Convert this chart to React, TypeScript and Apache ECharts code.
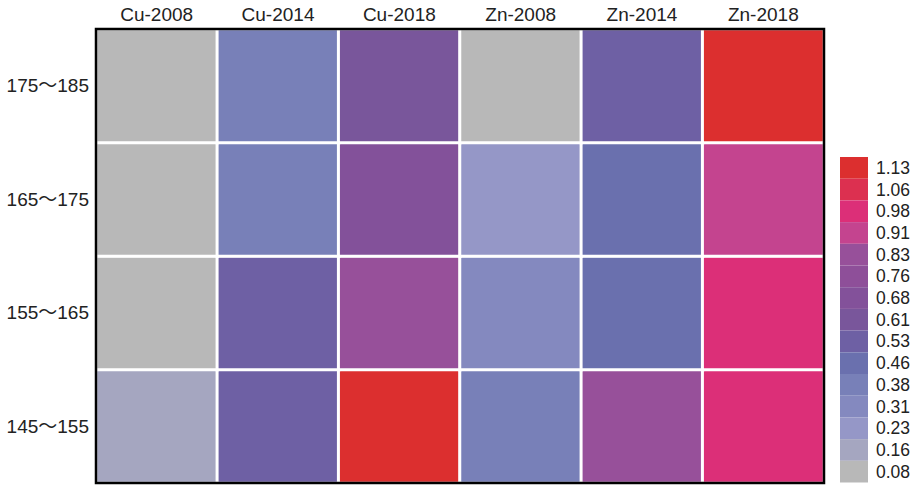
import React, { useEffect, useRef } from "react";
import * as echarts from "echarts";

const columns = ["Cu-2008", "Cu-2014", "Cu-2018", "Zn-2008", "Zn-2014", "Zn-2018"];
const rows = ["145～155", "155～165", "165～175", "175～185"];

// values per row (bottom to top), columns left to right
const row145 = [0.16, 0.53, 1.13, 0.38, 0.83, 0.98];
const row155 = [0.08, 0.53, 0.83, 0.31, 0.46, 0.98];
const row165 = [0.08, 0.38, 0.68, 0.23, 0.46, 0.91];
const row175 = [0.08, 0.38, 0.61, 0.08, 0.53, 1.13];

const levels = [0.08, 0.16, 0.23, 0.31, 0.38, 0.46, 0.53, 0.61, 0.68, 0.76, 0.83, 0.91, 0.98, 1.06, 1.13];
const levelColors = [
  "#b8b8b8", "#a5a6c0", "#9597c7", "#8489bf", "#7880b8", "#6a70ae", "#6e60a4",
  "#79569b", "#83519a", "#8e4f99", "#97509a", "#c4448f", "#dc2f78", "#dc3050", "#dc2f2f",
];

const FONT = "'Liberation Sans', Arial, 'Noto Sans CJK SC', sans-serif";

export default function App() {
  const ref = useRef<HTMLDivElement>(null);
  useEffect(() => {
    if (!ref.current) return;
    const chart = echarts.init(ref.current, undefined, { renderer: "svg" });
    const allRows = [row145, row155, row165, row175];
    const data: [number, number, number][] = [];
    allRows.forEach((r, yi) => r.forEach((v, xi) => data.push([xi, yi, v])));
    chart.setOption({
      animation: false,
      backgroundColor: "#fff",
      grid: { left: 96, right: 92, top: 29, bottom: 3 },
      xAxis: {
        type: "category",
        data: columns,
        position: "top",
        axisLine: { show: false },
        axisTick: { show: false },
        splitLine: { show: false },
        axisLabel: { fontSize: 19, color: "#222", fontFamily: FONT, margin: 5 },
      },
      yAxis: {
        type: "category",
        data: rows,
        axisLine: { show: false },
        axisTick: { show: false },
        splitLine: { show: false },
        axisLabel: { fontSize: 19, color: "#222", fontFamily: FONT, margin: 7 },
      },
      visualMap: {
        type: "piecewise",
        orient: "vertical",
        left: 840,
        top: 157,
        padding: 0,
        align: "left",
        itemWidth: 28,
        itemHeight: 21.7,
        itemGap: 0,
        itemSymbol: "rect",
        textGap: 8,
        selectedMode: false,
        hoverLink: false,
        showLabel: true,
        textStyle: { fontSize: 17.5, color: "#222", fontFamily: FONT },
        pieces: levels.map((v, i) => ({ value: v, label: v.toFixed(2), color: levelColors[i] })),
      },
      series: [
        {
          type: "heatmap",
          data,
          itemStyle: { borderColor: "#fff", borderWidth: 3 },
          emphasis: { disabled: true },
        },
      ],
      graphic: [
        {
          type: "rect",
          z: 100,
          shape: { x: 96, y: 29, width: 728, height: 454 },
          style: { fill: "none", stroke: "#000", lineWidth: 2.5 },
        },
      ],
    });
    return () => chart.dispose();
  }, []);
  return (
    <div
      ref={ref}
      style={{ position: "fixed", left: 0, top: 0, width: 916, height: 486, background: "#fff" }}
    />
  );
}
